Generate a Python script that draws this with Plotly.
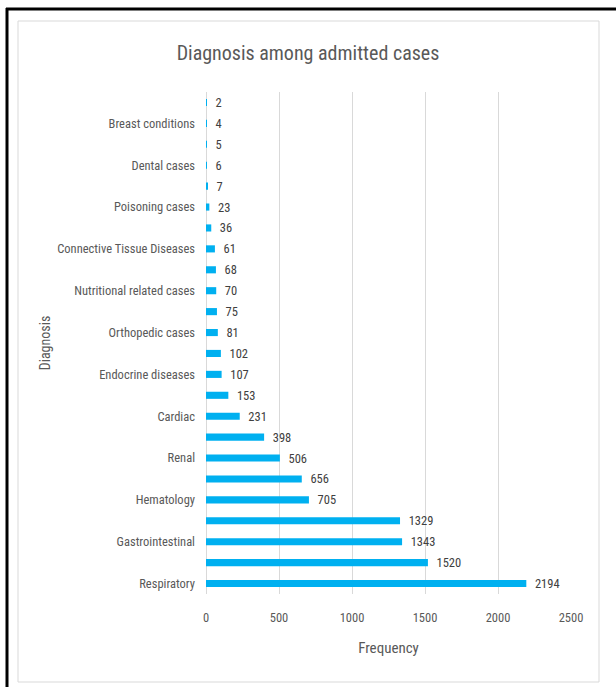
import plotly.graph_objects as go

# Data, top to bottom (Excel shows only every second category label)
labels = ["", "Breast conditions", "", "Dental cases", "", "Poisoning cases", "",
          "Connective Tissue Diseases", "", "Nutritional related cases", "",
          "Orthopedic cases", "", "Endocrine diseases", "", "Cardiac", "", "Renal",
          "", "Hematology", "", "Gastrointestinal", "", "Respiratory"]
values = [2, 4, 5, 6, 7, 23, 36, 61, 68, 70, 75, 81, 102, 107, 153, 231, 398,
          506, 656, 705, 1329, 1343, 1520, 2194]
x_ticks = [0, 500, 1000, 1500, 2000, 2500]

positions = list(range(len(values)))

FONT = "Liberation Sans Narrow, Arial Narrow, Roboto Condensed, Liberation Sans, sans-serif"
GREY = "#595959"

W, H = 616, 687
L, R, T, B = 206, 571, 92, 594  # plot area pixels


def px(x):
    return (x - L) / (R - L)


def py(y):
    return (B - y) / (B - T)


fig = go.Figure(go.Bar(
    x=values, y=positions, orientation="h",
    marker=dict(color="#00B0F0", line=dict(width=0)),
    width=0.34,
    text=[str(v) for v in values], textposition="outside",
    texttemplate="\u2002%{text}",
    constraintext="none",
    textfont=dict(family=FONT, size=12.5, color="#404040"),
    cliponaxis=False,
))

shapes = [
    # light grey chart-area border
    dict(type="rect", xref="paper", yref="paper", x0=px(18), x1=px(599), y0=py(21), y1=py(682),
         line=dict(color="#d9d9d9", width=1)),
    # black page border (top and left)
    dict(type="line", xref="paper", yref="paper", x0=px(6), x1=px(620), y0=py(9), y1=py(9),
         line=dict(color="black", width=3)),
    dict(type="line", xref="paper", yref="paper", x0=px(7), x1=px(7), y0=py(8), y1=py(690),
         line=dict(color="black", width=3)),
]

fig.update_layout(
    width=W, height=H,
    margin=dict(l=L, r=W - R, t=T, b=H - B, pad=0),
    paper_bgcolor="white", plot_bgcolor="white",
    showlegend=False,
    title=dict(text="Diagnosis among admitted cases", x=0.5, xanchor="center",
               y=1 - 53 / H, yanchor="middle", yref="container",
               font=dict(family=FONT, size=20, color=GREY)),
    xaxis=dict(range=[0, 2500], tickvals=x_ticks, ticktext=[str(t) for t in x_ticks],
               showgrid=True, gridcolor="#d9d9d9", gridwidth=1,
               zeroline=True, zerolinecolor="#d9d9d9", zerolinewidth=1,
               showline=False, ticks="", ticklen=0,
               ticklabelstandoff=14,
               tickfont=dict(family=FONT, size=12.5, color=GREY),
               title=dict(text="Frequency", standoff=18,
                          font=dict(family=FONT, size=15, color=GREY))),
    yaxis=dict(range=[len(values) - 0.5, -0.5], tickvals=positions, ticktext=labels,
               showgrid=False, zeroline=False, showline=False, ticks="",
               ticklabelstandoff=10,
               tickfont=dict(family=FONT, size=12.5, color=GREY),
               title=dict(text="Diagnosis", standoff=3,
                          font=dict(family=FONT, size=14, color=GREY))),
    shapes=shapes,
    font=dict(family=FONT),
)

fig.write_html("out.html")
